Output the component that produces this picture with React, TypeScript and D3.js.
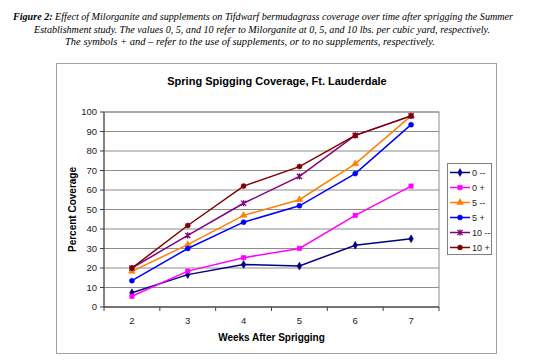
import * as d3 from "d3"

const weeks = ["2", "3", "4", "5", "6", "7"]
const seriesNames = ["0 --", "0 +", "5 --", "5 +", "10 --", "10 +"]
const seriesColors = ["#000080", "#ff00ff", "#ff7f00", "#0000ff", "#800080", "#800000"]
const seriesMarkers = ["diamond", "square", "triangle", "circle", "star", "circle"]

const zeroMinus = [7.3, 16.6, 21.8, 21, 31.7, 35]
const zeroPlus = [5.5, 18.4, 25.3, 30, 47, 62]
const fiveMinus = [18.3, 32, 47, 55, 73.4, 98]
const fivePlus = [13.5, 30, 43.5, 51.9, 68.4, 93.5]
const tenMinus = [20, 36.7, 53.2, 67, 88, 98]
const tenPlus = [20, 41.8, 62, 72, 88, 98]
const seriesValues = [zeroMinus, zeroPlus, fiveMinus, fivePlus, tenMinus, tenPlus]

const yTicks = [0, 10, 20, 30, 40, 50, 60, 70, 80, 90, 100]

const W = 551
const H = 363
const plot = { left: 104, right: 439, top: 112, bottom: 307 }

function Marker({ kind, color, x, y }: { kind: string; color: string; x: number; y: number }) {
  if (kind === "star") {
    const s = 2.6
    return (
      <path
        transform={`translate(${x},${y})`}
        d={`M${-s},${-s}L${s},${s}M${-s},${s}L${s},${-s}M0,${-s - 0.5}L0,${s + 0.5}`}
        stroke={color}
        strokeWidth={1.3}
        fill="none"
      />
    )
  }
  const type =
    kind === "diamond"
      ? d3.symbolDiamond
      : kind === "square"
      ? d3.symbolSquare
      : kind === "triangle"
      ? d3.symbolTriangle
      : d3.symbolCircle
  const size = kind === "diamond" ? 18 : 20
  return (
    <path
      transform={`translate(${x},${y})`}
      d={d3.symbol().type(type).size(size)()!}
      fill={color}
      stroke={color}
      strokeWidth={0.5}
    />
  )
}

export default function App() {
  const x = d3.scaleBand().domain(weeks).range([plot.left, plot.right])
  const y = d3.scaleLinear().domain([0, 100]).range([plot.bottom, plot.top])
  const cx = (w: string) => x(w)! + x.bandwidth() / 2

  const line = d3
    .line<number>()
    .x((_, i) => cx(weeks[i]))
    .y((d) => y(d))

  const boundaries = d3.range(weeks.length + 1).map((i) => plot.left + i * x.bandwidth())

  const legend = { x: 447, y: 163, w: 44, h: 91 }
  const serif = "'Liberation Serif', 'Times New Roman', serif"
  const sans = "'Liberation Sans', Arial, sans-serif"

  return (
    <svg
      width={W}
      height={H}
      style={{ position: "absolute", left: 0, top: 0, background: "#fff" }}
    >
      <rect width={W} height={H} fill="#fff" />

      {/* caption */}
      <g fontFamily={serif} fontStyle="italic" fontSize={10.5} fill="#000">
        <text x={13} y={20} textLength={500} lengthAdjust="spacingAndGlyphs">
          <tspan fontWeight="bold">Figure 2:</tspan>
          {"  Effect of Milorganite and supplements on Tifdwarf bermudagrass coverage over time after sprigging the Summer"}
        </text>
        <text x={34} y={33} textLength={456} lengthAdjust="spacingAndGlyphs">
          Establishment study. The values 0, 5, and 10 refer to Milorganite at 0, 5, and 10 lbs. per cubic yard, respectively.
        </text>
        <text x={65} y={45} textLength={370} lengthAdjust="spacingAndGlyphs">
          The symbols + and – refer to the use of supplements, or to no supplements, respectively.
        </text>
      </g>

      {/* chart area */}
      <rect x={56.5} y={63.5} width={440} height={290} fill="#fff" stroke="#a0a0a0" strokeWidth={1} />

      <text x={277} y={85} textAnchor="middle" fontFamily={sans} fontWeight="bold" fontSize={11}>
        Spring Spigging Coverage, Ft. Lauderdale
      </text>

      {/* gridlines */}
      {yTicks.map((t) => (
        <line key={t} x1={plot.left} x2={plot.right} y1={y(t)} y2={y(t)} stroke="#8c8c8c" strokeWidth={1} />
      ))}
      <rect
        x={plot.left}
        y={plot.top}
        width={plot.right - plot.left}
        height={plot.bottom - plot.top}
        fill="none"
        stroke="#8c8c8c"
        strokeWidth={1}
      />

      {/* y axis */}
      <line x1={plot.left} x2={plot.left} y1={plot.top} y2={plot.bottom} stroke="#404040" />
      {yTicks.map((t) => (
        <g key={t}>
          <line x1={plot.left - 4} x2={plot.left} y1={y(t)} y2={y(t)} stroke="#404040" />
          <text
            x={plot.left - 7}
            y={y(t)}
            dy="0.35em"
            textAnchor="end"
            fontFamily={sans}
            fontSize={9.5}
            fill="#222"
          >
            {t}
          </text>
        </g>
      ))}
      <text
        transform={`translate(${76},${(plot.top + plot.bottom) / 2}) rotate(-90)`}
        textAnchor="middle"
        fontFamily={sans}
        fontWeight="bold"
        fontSize={10}
      >
        Percent Coverage
      </text>

      {/* x axis */}
      <line x1={plot.left} x2={plot.right} y1={plot.bottom} y2={plot.bottom} stroke="#404040" />
      {boundaries.map((b, i) => (
        <line key={i} x1={b} x2={b} y1={plot.bottom} y2={plot.bottom + 4} stroke="#404040" />
      ))}
      {weeks.map((w) => (
        <text key={w} x={cx(w)} y={324} textAnchor="middle" fontFamily={sans} fontSize={9.5} fill="#222">
          {w}
        </text>
      ))}
      <text x={(plot.left + plot.right) / 2} y={341} textAnchor="middle" fontFamily={sans} fontWeight="bold" fontSize={10}>
        Weeks After Sprigging
      </text>

      {/* series */}
      {seriesValues.map((vals, si) => (
        <g key={si}>
          <path d={line(vals)!} fill="none" stroke={seriesColors[si]} strokeWidth={1.5} />
          {vals.map((v, i) => (
            <Marker key={i} kind={seriesMarkers[si]} color={seriesColors[si]} x={cx(weeks[i])} y={y(v)} />
          ))}
        </g>
      ))}

      {/* legend */}
      <rect x={legend.x + 0.5} y={legend.y + 0.5} width={legend.w} height={legend.h} fill="#fff" stroke="#808080" />
      {seriesNames.map((name, i) => {
        const ly = legend.y + 9.5 + i * 15
        return (
          <g key={name}>
            <line x1={legend.x + 3} x2={legend.x + 23} y1={ly} y2={ly} stroke={seriesColors[i]} strokeWidth={1.5} />
            <Marker kind={seriesMarkers[i]} color={seriesColors[i]} x={legend.x + 13} y={ly} />
            <text x={legend.x + 25} y={ly} dy="0.35em" fontFamily={sans} fontSize={9} fill="#222">
              {name}
            </text>
          </g>
        )
      })}
    </svg>
  )
}
